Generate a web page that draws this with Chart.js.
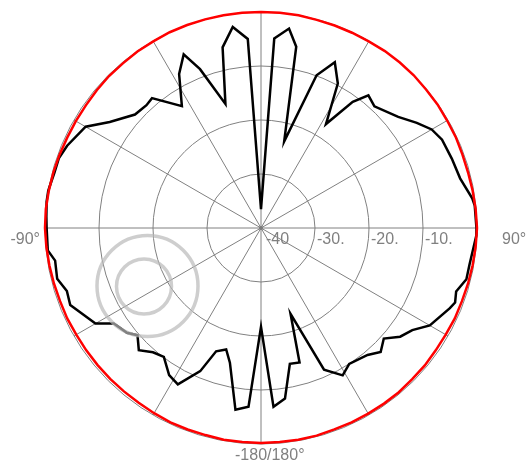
<!DOCTYPE html>
<html>
<head>
<meta charset="utf-8">
<script src="https://cdn.jsdelivr.net/npm/chart.js@4.4.0/dist/chart.umd.min.js"></script>
<style>
html, body { margin: 0; padding: 0; background: #fff; }
#wrap { width: 531px; height: 463px; }
</style>
</head>
<body>
<div id="wrap"><canvas id="polarChart" width="531" height="463"></canvas></div>
<script>
// angles in degrees: 0 = top, clockwise positive, -180..180
const blackAngles = [-176, -172, -167, -164, -160, -157, -152, -148, -143, -139, -135, -131, -128, -123, -120,
    -112, -108, -104, -99, -96, -90, -87, -83, -80, -75, -71, -67, -60, -55, -48, -43, -40, -33, -28, -24,
    -21, -16, -12, -8, -4, 0, 4, 8, 11, 15, 20, 24, 28, 32, 36, 39, 43, 51, 56, 60, 64, 70, 76, 82, 84,
    90, 92, 100, 104, 108, 111, 113, 120, 124, 128, 132, 136, 140, 147, 151, 156, 161, 164, 168, 172, 176, 180];
const blackDb = [-6.8, -6.0, -14.4, -16.6, -15.7, -11.2, -7.2, -7.9, -10.1, -9.5, -8.0, -9.7, -8.5, -7.5, -4.6,
    -1.9, -2.2, -1.1, -1.4, -0.3, -0.3, -0.2, 0, 0, -0.4, -0.4, -1.0, -2.5, -5.8, -8.6, -8.9, -8.6, -13.1, -7.7, -4.8,
    -8.5, -16.1, -5.8, -2.4, -4.9, -36.5, -4.8, -2.7, -5.8, -23.4, -9.9, -6.4, -9.7, -17.3, -11.1, -8.4, -9.2, -7.3, -5.2, -3.5, -2.7, -2.4, -2.0, -0.5, -0.2,
    -0.1, -0.1, -0.8, -0.8, -2.0, -1.5, -2.0, -3.9, -6.2, -7.3, -9.4, -8.1, -9.3, -10.0, -8.8, -11.3, -23.2, -14.1, -14.3, -8.1, -6.8, -21.7];

const redAngles = [-175, -170, -165, -160, -155, -150, -145, -140, -135, -130, -125, -120, -115, -110, -105, -100,
    -95, -90, -85, -80, -75, -70, -65, -60, -55, -50, -45, -40, -35, -30, -25, -20, -15, -10, -5,
    0, 5, 10, 15, 20, 25, 30, 35, 40, 45, 50, 55, 60, 65, 70, 75, 80, 85, 90,
    95, 100, 105, 110, 115, 120, 125, 130, 135, 140, 145, 150, 155, 160, 165, 170, 175, 180];
const redDb = [-0.2, -0.2, -0.3, -0.3, -0.3, -0.4, -0.5, -0.5, -0.5, -0.5, -0.5, -0.5, -0.4, -0.4, -0.3, -0.2,
    -0.1, 0, 0, -0.1, -0.2, -0.3, -0.4, -0.4, -0.4, -0.3, -0.2, -0.2, -0.1, -0.1, 0, 0, 0, 0, 0,
    0, 0, 0, -0.1, -0.1, -0.1, -0.1, 0, 0, 0, -0.1, -0.1, -0.2, -0.2, -0.3, -0.3, -0.2, -0.1, 0,
    -0.1, -0.2, -0.3, -0.4, -0.4, -0.5, -0.5, -0.4, -0.4, -0.3, -0.3, -0.3, -0.3, -0.3, -0.2, -0.2, -0.2, -0.2];

const ringValues = [-40, -30, -20, -10];
const ringLabels = ['-40', '-30.', '-20.', '-10.'];
const axisLabels = ['-90°', '90°', '-180/180°'];

// one radar slot per degree, only the read vertices are filled in
function toSeries(angles, values) {
    const out = new Array(360).fill(null);
    angles.forEach((a, i) => {
        out[((Math.round(a) % 360) + 360) % 360] = values[i];
    });
    return out;
}

const degreeLabels = Array.from({ length: 360 }, (_, i) => String(i));

const labelPlugin = {
    id: 'polarLabels',
    afterDraw(chart) {
        const s = chart.scales.r;
        const c = chart.ctx;
        const R = s.drawingArea;
        c.save();
        c.fillStyle = '#7a7a7a';
        c.beginPath();
        c.arc(s.xCenter, s.yCenter, 2, 0, Math.PI * 2);
        c.fill();

        c.font = '16px "Liberation Sans", Arial, sans-serif';
        c.fillStyle = '#808080';
        c.textBaseline = 'alphabetic';
        c.textAlign = 'left';
        ringValues.forEach((v, i) => {
            const d = s.getDistanceFromCenterForValue(v);
            c.fillText(ringLabels[i], s.xCenter + d + (i === 0 ? 5 : 2), s.yCenter + 16);
        });
        c.textAlign = 'right';
        c.fillText(axisLabels[0], s.xCenter - R - 5, s.yCenter + 16);
        c.textAlign = 'left';
        c.fillText(axisLabels[1], s.xCenter + R + 25, s.yCenter + 16);
        c.fillText(axisLabels[2], s.xCenter - 26, s.yCenter + R + 16);

        // watermark ring (sits over the plot)
        c.strokeStyle = 'rgba(185,185,185,0.7)';
        c.lineWidth = 3.5;
        c.beginPath();
        c.arc(147.5, 286, 50.5, 0, Math.PI * 2);
        c.stroke();
        c.beginPath();
        c.arc(144, 286.5, 27.5, 0, Math.PI * 2);
        c.stroke();
        c.restore();
    }
};

const ctx = document.getElementById('polarChart').getContext('2d');
const chart = new Chart(ctx, {
    type: 'radar',
    data: {
        labels: degreeLabels,
        datasets: [
            {
                label: 'reference',
                data: toSeries(redAngles, redDb),
                borderColor: '#ff0000',
                borderWidth: 2.5,
                pointRadius: 0,
                fill: false,
                spanGaps: true,
                tension: 0
            },
            {
                label: 'measured',
                data: toSeries(blackAngles, blackDb),
                borderColor: '#000000',
                borderWidth: 2.5,
                pointRadius: 0,
                fill: false,
                spanGaps: true,
                tension: 0
            }
        ]
    },
    options: {
        responsive: false,
        animation: false,
        layout: {
            padding: { left: 45, right: 53, top: 12, bottom: 18 }
        },
        plugins: {
            legend: { display: false },
            tooltip: { enabled: false }
        },
        scales: {
            r: {
                min: -40,
                max: 0,
                startAngle: 0,
                ticks: { display: false, stepSize: 10 },
                pointLabels: { display: false },
                grid: { circular: true, color: '#808080', lineWidth: 1 },
                angleLines: {
                    color: '#808080',
                    lineWidth: (c) => (c.index % 30 === 0 ? 1 : 0)
                }
            }
        }
    },
    plugins: [labelPlugin]
});
</script>
</body>
</html>
